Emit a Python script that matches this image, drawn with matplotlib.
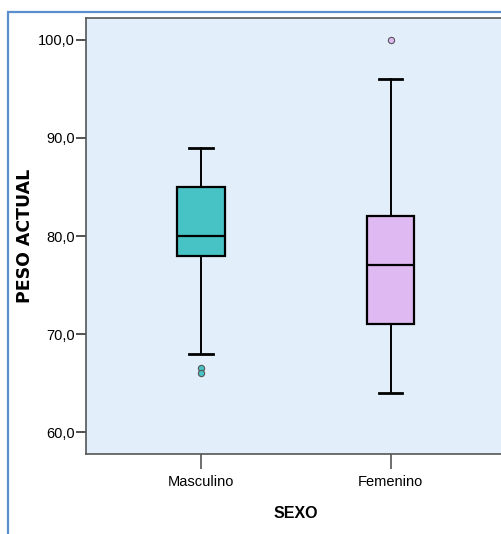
import matplotlib.pyplot as plt
from matplotlib.patches import Rectangle

# box summary values (PESO ACTUAL by SEXO)
groups = ['Masculino', 'Femenino']
whisker_low = [68.0, 64.0]
q1 = [78.0, 71.0]
medians = [80.0, 77.0]
q3 = [85.0, 82.0]
whisker_high = [89.0, 96.0]
outliers = [[66.5, 66.0], [100.0]]
colors = ['#47C2C5', '#DFB9F1']
yticks = [60, 70, 80, 90, 100]

plt.rcParams['font.family'] = ['Liberation Sans', 'DejaVu Sans']

fig = plt.figure(figsize=(5.02, 5.34), dpi=100)
fig.patch.set_facecolor('white')

# blue outer frame of the chart window
fig.patches.append(Rectangle((8 / 502, -0.1), 1.2, 1 - 12 / 534 + 0.1,
                             transform=fig.transFigure, fill=False,
                             edgecolor='#5B8FCB', linewidth=1.6))

ax = fig.add_axes([85.7 / 502, 1 - 454 / 534, 420 / 502, 436 / 534])
ax.set_facecolor('#E2EEFA')

stats = []
for i, g in enumerate(groups):
    stats.append({'label': g, 'whislo': whisker_low[i], 'q1': q1[i], 'med': medians[i],
                  'q3': q3[i], 'whishi': whisker_high[i], 'fliers': outliers[i]})

bp = ax.bxp(stats, positions=[1, 2], widths=0.25, patch_artist=True,
            showfliers=True,
            boxprops=dict(edgecolor='black', linewidth=1.6),
            medianprops=dict(color='black', linewidth=1.6),
            whiskerprops=dict(color='black', linewidth=1.4),
            capprops=dict(color='black', linewidth=2.0),
            capwidths=0.125)
for patch, c in zip(bp['boxes'], colors):
    patch.set_facecolor(c)
for fl, c in zip(bp['fliers'], colors):
    fl.set(marker='o', markersize=4.5, markerfacecolor=c,
           markeredgecolor='#555555', markeredgewidth=0.8)

ax.set_xlim(0.393, 2.607)
ax.set_ylim(57.76, 102.24)
ax.set_yticks(yticks)
ax.set_yticklabels([f'{v:.1f}'.replace('.', ',') for v in yticks])
ax.set_xticks([1, 2])
ax.set_xticklabels(groups)
ax.tick_params(axis='y', length=7, width=1.2, color='#333333', labelsize=10.5, pad=1)
ax.tick_params(axis='x', length=11, width=1.2, color='#555555', labelsize=10.5, pad=4)

for s in ax.spines.values():
    s.set_color('#555555')
    s.set_linewidth(1.2)

ax.set_xlabel('SEXO', fontsize=11.5, fontweight='bold', labelpad=12)
ax.set_ylabel('PESO ACTUAL', fontsize=12.5, fontweight='bold', family='DejaVu Sans')
ax.yaxis.set_label_coords(-0.123, 0.5)

fig.savefig('out.png', dpi=100)
